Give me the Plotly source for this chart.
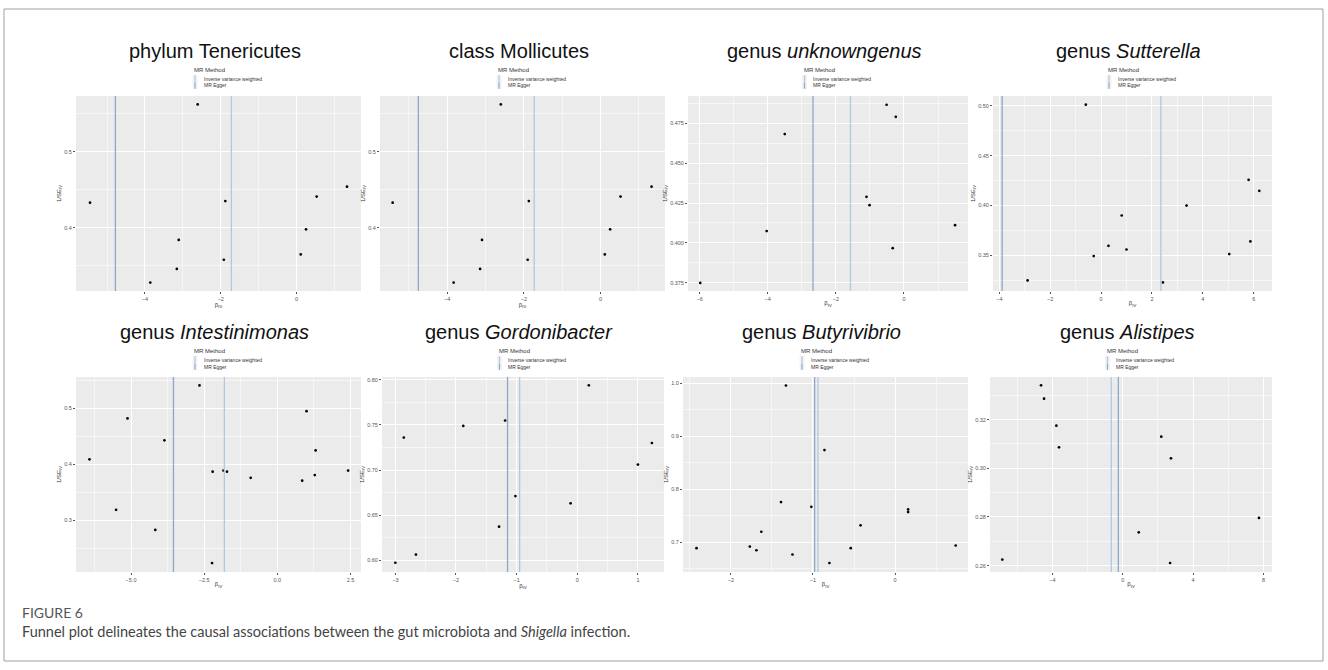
import math
import plotly.graph_objects as go

W, H = 1328, 670

# ---- instrument-level estimates (beta_IV, 1/SE_IV) and pooled estimates ----
# phylum Tenericutes and class Mollicutes share the same instruments
tenericutes_beta = [-5.45, -2.61, -1.88, -3.11, -3.16, -3.86, -1.92, 0.11, 0.25, 0.53, 1.33]
tenericutes_inv_se = [0.433, 0.562, 0.435, 0.384, 0.346, 0.328, 0.358, 0.365, 0.398, 0.441, 0.454]
tenericutes_ivw, tenericutes_egger = -1.72, -4.78

mollicutes_beta = [-5.42, -2.60, -1.87, -3.09, -3.14, -3.83, -1.90, 0.11, 0.25, 0.52, 1.33]
mollicutes_inv_se = [0.433, 0.562, 0.435, 0.384, 0.346, 0.328, 0.358, 0.365, 0.398, 0.441, 0.454]
mollicutes_ivw, mollicutes_egger = -1.73, -4.75

unknowngenus_beta = [-5.98, -4.03, -3.50, -1.10, -1.01, -0.51, -0.24, -0.33, 1.50]
unknowngenus_inv_se = [0.3749, 0.4074, 0.4683, 0.4289, 0.4237, 0.4867, 0.4791, 0.3967, 0.4111]
unknowngenus_ivw, unknowngenus_egger = -1.57, -2.67

sutterella_beta = [-2.89, -0.60, -0.29, 0.29, 0.81, 1.00, 2.43, 3.36, 5.04, 5.80, 5.87, 6.22]
sutterella_inv_se = [0.3246, 0.5013, 0.3491, 0.3594, 0.3899, 0.3557, 0.3226, 0.3999, 0.3511, 0.4257, 0.3638, 0.4147]
sutterella_ivw, sutterella_egger = 2.35, -3.89

intestinimonas_beta = [-6.42, -5.12, -5.51, -3.86, -4.17, -2.66, -2.21, -1.84, -1.72, -2.23,
                       -0.91, 0.85, 1.00, 1.31, 1.28, 2.42]
intestinimonas_inv_se = [0.409, 0.482, 0.319, 0.443, 0.283, 0.541, 0.387, 0.389, 0.387, 0.224,
                         0.376, 0.371, 0.495, 0.425, 0.381, 0.389]
intestinimonas_ivw, intestinimonas_egger = -1.81, -3.55

gordonibacter_beta = [-3.00, -2.86, -2.66, -1.88, -1.29, -1.19, -1.02, -0.11, 0.19, 1.00, 1.23]
gordonibacter_inv_se = [0.597, 0.736, 0.606, 0.749, 0.637, 0.755, 0.671, 0.663, 0.794, 0.706, 0.730]
gordonibacter_ivw, gordonibacter_egger = -0.95, -1.15

butyrivibrio_beta = [-2.42, -1.77, -1.69, -1.63, -1.39, -1.33, -1.25, -1.02, -0.86, -0.80,
                     -0.54, -0.42, 0.16, 0.16, 0.74]
butyrivibrio_inv_se = [0.689, 0.692, 0.685, 0.720, 0.776, 0.996, 0.677, 0.767, 0.874, 0.661,
                       0.689, 0.732, 0.762, 0.757, 0.694]
butyrivibrio_ivw, butyrivibrio_egger = -0.94, -0.98

alistipes_beta = [-6.84, -4.64, -4.47, -3.77, -3.62, 0.91, 2.19, 2.74, 2.69, 7.74]
alistipes_inv_se = [0.2625, 0.3341, 0.3286, 0.3175, 0.3086, 0.2737, 0.3130, 0.3041, 0.2611, 0.2796]
alistipes_ivw, alistipes_egger = -0.65, -0.25

panel_titles = ["phylum Tenericutes", "class Mollicutes", "genus <i>unknowngenus</i>",
                "genus <i>Sutterella</i>", "genus <i>Intestinimonas</i>",
                "genus <i>Gordonibacter</i>", "genus <i>Butyrivibrio</i>", "genus <i>Alistipes</i>"]

# axis breaks (major ticks) per panel
x_breaks = [[-4, -2, 0], [-4, -2, 0], [-6, -4, -2, 0], [-4, -2, 0, 2, 4, 6],
            [-5.0, -2.5, 0.0, 2.5], [-3, -2, -1, 0, 1], [-2, -1, 0], [-4, 0, 4, 8]]
y_breaks = [[0.4, 0.5], [0.4, 0.5], [0.375, 0.400, 0.425, 0.450, 0.475],
            [0.35, 0.40, 0.45, 0.50], [0.3, 0.4, 0.5], [0.60, 0.65, 0.70, 0.75, 0.80],
            [0.7, 0.8, 0.9, 1.0], [0.26, 0.28, 0.30, 0.32]]

# ---- layout of the 2 x 4 grid (pixel boxes of the panels) ----
panels = [
    dict(beta=tenericutes_beta, inv_se=tenericutes_inv_se, ivw=tenericutes_ivw, egger=tenericutes_egger,
         box=(76, 361, 96, 291), xr=(-5.82, 1.70), yr=(0.317, 0.573), xstep=1, ystep=0.05, xf=".0f", yf=".1f"),
    dict(beta=mollicutes_beta, inv_se=mollicutes_inv_se, ivw=mollicutes_ivw, egger=mollicutes_egger,
         box=(380, 665, 96, 291), xr=(-5.75, 1.68), yr=(0.317, 0.573), xstep=1, ystep=0.05, xf=".0f", yf=".1f"),
    dict(beta=unknowngenus_beta, inv_se=unknowngenus_inv_se, ivw=unknowngenus_ivw, egger=unknowngenus_egger,
         box=(688, 968, 96, 291), xr=(-6.34, 1.88), yr=(0.3698, 0.4922), xstep=1, ystep=0.0125, xf=".0f", yf=".3f"),
    dict(beta=sutterella_beta, inv_se=sutterella_inv_se, ivw=sutterella_ivw, egger=sutterella_egger,
         box=(993, 1272, 96, 291), xr=(-4.25, 6.72), yr=(0.314, 0.510), xstep=1, ystep=0.025, xf=".0f", yf=".2f"),
    dict(beta=intestinimonas_beta, inv_se=intestinimonas_inv_se, ivw=intestinimonas_ivw, egger=intestinimonas_egger,
         box=(76, 361, 377, 572), xr=(-6.88, 2.86), yr=(0.208, 0.556), xstep=1.25, ystep=0.05, xf=".1f", yf=".1f"),
    dict(beta=gordonibacter_beta, inv_se=gordonibacter_inv_se, ivw=gordonibacter_ivw, egger=gordonibacter_egger,
         box=(382, 664, 377, 572), xr=(-3.22, 1.43), yr=(0.5867, 0.8033), xstep=0.5, ystep=0.025, xf=".0f", yf=".2f"),
    dict(beta=butyrivibrio_beta, inv_se=butyrivibrio_inv_se, ivw=butyrivibrio_ivw, egger=butyrivibrio_egger,
         box=(683, 968, 377, 572), xr=(-2.585, 0.89), yr=(0.644, 1.012), xstep=0.5, ystep=0.05, xf=".0f", yf=".1f"),
    dict(beta=alistipes_beta, inv_se=alistipes_inv_se, ivw=alistipes_ivw, egger=alistipes_egger,
         box=(990, 1272, 377, 572), xr=(-7.54, 8.48), yr=(0.2574, 0.3375), xstep=2, ystep=0.01, xf=".0f", yf=".2f"),
]

IVW_COLOR = "#aecae2"
EGGER_COLOR = "#8ea7ca"
TXT = "#555555"
FONT = "Liberation Sans"


def frange(a, b, step):
    vals, v = [], a
    while v <= b + 1e-9:
        vals.append(round(v, 6))
        v += step
    return vals


def minor_vals(rng, step, majors):
    start = math.floor(rng[0] / step) * step
    vals = frange(start, rng[1], step)
    return [v for v in vals if rng[0] <= v <= rng[1] and all(abs(v - m) > 1e-9 for m in majors)]


fig = go.Figure()
shapes, annotations = [], []

for i, p in enumerate(panels):
    n = i + 1
    sx = "" if n == 1 else str(n)
    xname, yname = "x" + sx, "y" + sx
    x0, x1, y0, y1 = p["box"]

    fig.add_trace(go.Scatter(
        x=p["beta"], y=p["inv_se"], mode="markers", xaxis=xname, yaxis=yname,
        marker=dict(color="black", size=2.7), showlegend=False, hoverinfo="x+y"))

    xb, yb = x_breaks[i], y_breaks[i]
    fig.layout["xaxis" + sx] = dict(
        domain=[x0 / W, x1 / W], anchor=yname, range=list(p["xr"]),
        tickmode="array", tickvals=xb, tickformat=p["xf"],
        showgrid=True, gridcolor="white", gridwidth=1.1,
        minor=dict(tickmode="array", tickvals=minor_vals(p["xr"], p["xstep"], xb),
                   showgrid=True, gridcolor="#f6f6f6", gridwidth=0.5),
        ticks="outside", ticklen=2, tickwidth=0.6, tickcolor="#555",
        tickfont=dict(size=5.5, color=TXT, family=FONT),
        zeroline=False, showline=False, fixedrange=True,
        title=dict(text="β<sub>IV</sub>", font=dict(size=6, color="#333", family=FONT), standoff=0))
    fig.layout["yaxis" + sx] = dict(
        domain=[1 - y1 / H, 1 - y0 / H], anchor=xname, range=list(p["yr"]),
        tickmode="array", tickvals=yb, tickformat=p["yf"],
        showgrid=True, gridcolor="white", gridwidth=1.1,
        minor=dict(tickmode="array", tickvals=minor_vals(p["yr"], p["ystep"], yb),
                   showgrid=True, gridcolor="#f6f6f6", gridwidth=0.5),
        ticks="outside", ticklen=2, tickwidth=0.6, tickcolor="#555",
        tickfont=dict(size=5.5, color=TXT, family=FONT),
        zeroline=False, showline=False, fixedrange=True,
        title=dict(text="1/SE<sub>IV</sub>", font=dict(size=6, color="#333", family=FONT), standoff=2))

    # pooled estimates as vertical reference lines
    for val, col in ((p["ivw"], IVW_COLOR), (p["egger"], EGGER_COLOR)):
        shapes.append(dict(type="line", xref=xname, yref=yname + " domain", x0=val, x1=val, y0=0, y1=1,
                           line=dict(color=col, width=1.3), layer="above"))

    # panel title
    cx = (x0 + x1) / 2
    annotations.append(dict(text=panel_titles[i], xref="paper", yref="paper", x=(cx - 4) / W,
                            y=1 - (y0 - 45) / H, xanchor="center", yanchor="middle", showarrow=False,
                            font=dict(size=20, color="#111", family=FONT)))

    # legend block: MR Method
    lx = cx - 26.5
    ly = y0 - 26
    annotations.append(dict(text="MR Method", xref="paper", yref="paper", x=lx / W, y=1 - ly / H,
                            xanchor="left", yanchor="middle", showarrow=False,
                            font=dict(size=6, color="#333", family=FONT)))
    for k, (lab, col) in enumerate((("Inverse variance weighted", IVW_COLOR), ("MR Egger", EGGER_COLOR))):
        ky0 = ly + 5 + k * 7
        ky1 = ky0 + 7
        shapes.append(dict(type="rect", xref="paper", yref="paper", x0=(lx + 0.5) / W, x1=(lx + 5.5) / W,
                           y0=1 - ky1 / H, y1=1 - ky0 / H, fillcolor="#f2f2f2", line=dict(width=0)))
        shapes.append(dict(type="line", xref="paper", yref="paper", x0=(lx + 3) / W, x1=(lx + 3) / W,
                           y0=1 - (ky1 - 0.3) / H, y1=1 - (ky0 + 0.3) / H, line=dict(color=col, width=1.2)))
        annotations.append(dict(text=lab, xref="paper", yref="paper", x=(lx + 9.5) / W, y=1 - (ky0 + 3.5) / H,
                                xanchor="left", yanchor="middle", showarrow=False,
                                font=dict(size=5, color="#333", family=FONT)))

# figure caption
annotations.append(dict(text="FIGURE 6", xref="paper", yref="paper", x=20 / W, y=1 - 612 / H,
                        xanchor="left", yanchor="middle", showarrow=False,
                        font=dict(size=14, color="#555", family="Lato")))
annotations.append(dict(text="Funnel plot delineates the causal associations between the gut microbiota and "
                             "<i>Shigella</i> infection.",
                        xref="paper", yref="paper", x=20 / W, y=1 - 631 / H,
                        xanchor="left", yanchor="middle", showarrow=False,
                        font=dict(size=14.5, color="#444", family="Lato")))

# outer frame
shapes.append(dict(type="rect", xref="paper", yref="paper", x0=4 / W, x1=1323 / W, y0=1 - 661 / H, y1=1 - 9 / H,
                   line=dict(color="#a0a0a0", width=1), fillcolor="rgba(0,0,0,0)", layer="below"))

fig.update_layout(width=W, height=H, margin=dict(l=0, r=0, t=0, b=0),
                  paper_bgcolor="white", plot_bgcolor="#ebebeb",
                  shapes=shapes, annotations=annotations, showlegend=False)

fig.write_html("out.html")
